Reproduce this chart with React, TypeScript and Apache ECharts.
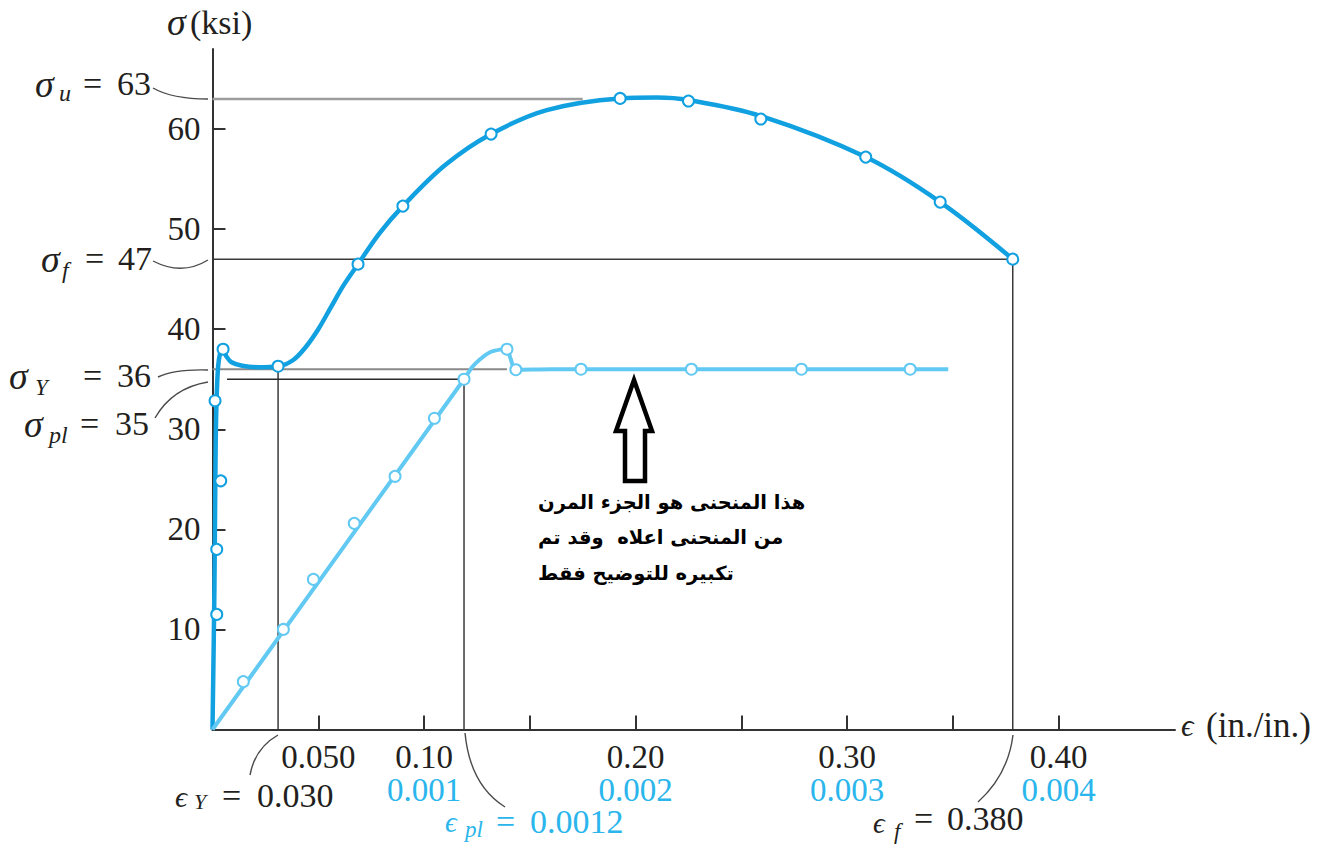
import React, { useEffect, useRef } from 'react';
import * as echarts from 'echarts';

// ---------- DATA ----------
// Large strain scale (upper curve), strain in in./in., stress in ksi
const upperCurve: number[][] = [
  [0, 0], [0.0009, 14], [0.0013, 24], [0.0017, 31], [0.0025, 35.8], [0.0036, 37.6], [0.005, 38.0],
  [0.0065, 37.3], [0.009, 36.7], [0.014, 36.35], [0.022, 36.2], [0.031, 36.3], [0.038, 36.9],
  [0.044, 38.2], [0.050, 40.0], [0.056, 42.2], [0.062, 44.4], [0.0688, 46.5], [0.079, 49.6],
  [0.090, 52.3], [0.110, 56.4], [0.1317, 59.5], [0.158, 61.9], [0.1927, 63.06], [0.21, 63.15],
  [0.225, 62.9], [0.2592, 61.3], [0.3088, 57.2], [0.344, 52.7], [0.3783, 47.0],
];
const upperMarkers: number[][] = [
  [0.002, 11.5], [0.002, 18.0], [0.0039, 24.85], [0.0012, 32.85], [0.005, 38.0], [0.031, 36.3],
  [0.0688, 46.5], [0.090, 52.3], [0.1317, 59.5], [0.1927, 63.06], [0.225, 62.8], [0.2592, 61.0],
  [0.3088, 57.2], [0.344, 52.7], [0.3783, 47.0],
];
// Small strain scale (elastic region, blue axis labels)
const elasticCurve: number[][] = [
  [0, 0], [0.001189, 35.0], [0.001227, 36.2], [0.001265, 37.0], [0.001312, 37.7], [0.001359, 37.96],
  [0.001392, 38.0], [0.001407, 37.2], [0.001434, 35.95], [0.0016, 36.0], [0.003478, 36.0],
];
const elasticMarkers: number[][] = [
  [0.0001457, 4.78], [0.000335, 10.0], [0.000477, 15.0], [0.00067, 20.6], [0.000863, 25.3],
  [0.001049, 31.1], [0.001189, 35.0], [0.001392, 38.0], [0.001434, 35.95], [0.001742, 36.0],
  [0.002264, 36.0], [0.002784, 36.0], [0.003298, 36.0],
];
// Reference lines
const refUltimate: number[][] = [[0, 63], [0.175, 63]];
const refFracture: number[][] = [[0, 47], [0.3783, 47]];
const refFractureV: number[][] = [[0.3783, 47], [0.3783, 0]];
const refYieldV: number[][] = [[0.031, 36.3], [0.031, 0]];
const refYieldSmall: number[][] = [[0, 36], [0.001392, 36]];
const refPropSmall: number[][] = [[0.0000686, 35], [0.001189, 35]];
const refPropSmallV: number[][] = [[0.001189, 35], [0.001189, 0]];

const xTickValues = [0.05, 0.1, 0.15, 0.2, 0.25, 0.3, 0.35, 0.4];
const xLabelValues = [0.05, 0.1, 0.2, 0.3, 0.4];
const xLabelsLarge = ['0.050', '0.10', '0.20', '0.30', '0.40'];
const xLabelsSmall = ['', '0.001', '0.002', '0.003', '0.004'];
const yTickValues = [10, 20, 30, 40, 50, 60];

const arabicLines = [
  'هذا المنحنى هو الجزء المرن',
  'من المنحنى اعلاه  وقد تم',
  'تكبيره للتوضيح فقط',
];

// ---------- STYLE ----------
const SERIF = "'Liberation Serif','DejaVu Serif',serif";
const INK = '#231f20';
const DARK_BLUE = '#11a0e0';
const LIGHT_BLUE = '#62c9f2';
const BLUE_TXT = '#2ab6ec';
const LEADER = '#4a4a4a';

function txt(x: number, y: number, text: string, size: number, italic = false, color = INK, family = SERIF, weight = 'normal') {
  return {
    type: 'text', x, y, silent: true,
    style: {
      text, fontSize: size, fontFamily: family, fontStyle: italic ? 'italic' : 'normal', fontWeight: weight,
      fill: color, align: 'left', verticalAlign: 'middle',
    },
  };
}
function leader(x1: number, y1: number, cx: number, cy: number, x2: number, y2: number) {
  return {
    type: 'bezierCurve', silent: true,
    shape: { x1, y1, cpx1: cx, cpy1: cy, x2, y2 },
    style: { stroke: LEADER, lineWidth: 1.4, fill: 'none' },
  };
}
function refLine(data: number[][], axis: number, color: string, width: number) {
  return {
    type: 'line', data, xAxisIndex: axis, yAxisIndex: 0, symbol: 'none', silent: true, z: 1,
    lineStyle: { color, width }, animation: false,
  };
}
const idxOf = (v: number) => xLabelValues.findIndex((t) => Math.abs(t - v) < 1e-9);

export default function App() {
  const ref = useRef<HTMLDivElement>(null);
  useEffect(() => {
    if (!ref.current) return;
    const chart = echarts.init(ref.current, undefined, { renderer: 'svg' });
    const graphic: any[] = [
      // y axis title
      txt(167, 22, 'σ', 38, true),
      txt(190, 22, '(ksi)', 34),
      // x axis title
      txt(1181, 725.5, 'ϵ', 31, true),
      txt(1206, 725.5, '(in./in.)', 35),
      // sigma_u = 63
      txt(35, 84, 'σ', 38, true), txt(59, 93, 'u', 24, true), txt(83, 83.5, '=', 34), txt(117, 83.5, '63', 34),
      // sigma_f = 47
      txt(41, 259, 'σ', 38, true), txt(62, 270, 'f', 24, true), txt(85, 258.5, '=', 34), txt(118, 258.5, '47', 34),
      // sigma_Y = 36
      txt(9, 376, 'σ', 38, true), txt(35, 387, 'Y', 23, true), txt(83, 375.5, '=', 34), txt(117, 375.5, '36', 34),
      // sigma_pl = 35
      txt(24, 424, 'σ', 38, true), txt(49, 435, 'pl', 24, true), txt(80, 423.5, '=', 34), txt(115, 423.5, '35', 34),
      // eps_Y = 0.030
      txt(175, 796, 'ϵ', 30, true), txt(194, 801, 'Y', 22, true), txt(222, 795.5, '=', 34), txt(257, 795.5, '0.030', 34),
      // eps_pl = 0.0012
      txt(445, 822, 'ϵ', 29, true, BLUE_TXT), txt(465, 829, 'pl', 23, true, BLUE_TXT),
      txt(496, 821.5, '=', 34, false, BLUE_TXT), txt(530, 821.5, '0.0012', 34, false, BLUE_TXT),
      // eps_f = 0.380
      txt(873, 822.5, 'ϵ', 29, true), txt(894, 831, 'f', 23, true), txt(914, 818.5, '=', 34), txt(947, 818.5, '0.380', 34),
      // leader curves
      leader(153, 88, 172, 99, 208, 99),
      leader(153, 261, 182, 276, 208, 260),
      leader(158, 377, 175, 369, 208, 370),
      leader(155, 418, 172, 388, 208, 382),
      leader(250, 775, 255, 748, 278, 735),
      leader(465, 733, 470, 785, 505, 807),
      leader(1013, 735, 1008, 775, 978, 802),
      // arrow
      {
        type: 'polygon', silent: true,
        shape: { points: [[634, 380], [652, 431], [645, 431], [645, 481], [625, 481], [625, 431], [616, 431]] },
        style: { fill: '#fff', stroke: '#000', lineWidth: 4.5, lineJoin: 'miter' },
      },
      ...arabicLines.map((t, i) => txt(538, 502 + i * 35.5, t, 19.5, false, '#000', "'DejaVu Sans',sans-serif", 'bold')),
    ];

    chart.setOption({
      animation: false,
      backgroundColor: '#fff',
      grid: { left: 212.5, right: 160, top: 49, bottom: 120.5, containLabel: false, outerBoundsMode: 'none' },
      xAxis: [
        {
          type: 'value', min: 0, max: 0.455, position: 'bottom',
          axisLine: { show: true, onZero: false, lineStyle: { color: '#333', width: 2 } },
          axisTick: { show: true, inside: true, length: 14, customValues: xTickValues, lineStyle: { color: '#333', width: 2 } },
          axisLabel: {
            customValues: xLabelValues, margin: 9,
            formatter: (v: number) => {
              const i = idxOf(v);
              if (i < 0) return '';
              return `{a|${xLabelsLarge[i]}}\n{b|${xLabelsSmall[i] || ' '}}`;
            },
            rich: {
              a: { fontSize: 33, fontFamily: SERIF, color: INK, lineHeight: 37 },
              b: { fontSize: 33, fontFamily: SERIF, color: BLUE_TXT, lineHeight: 29 },
            },
          },
          splitLine: { show: false },
        },
        { type: 'value', min: 0, max: 0.00455, show: false, splitLine: { show: false } },
      ],
      yAxis: [
        {
          type: 'value', min: 0, max: 68,
          axisLine: { show: true, onZero: false, lineStyle: { color: '#333', width: 2 } },
          axisTick: { show: true, inside: true, length: 13, customValues: yTickValues, lineStyle: { color: '#333', width: 2 } },
          axisLabel: { customValues: yTickValues, margin: 12, fontSize: 33, fontFamily: SERIF, color: INK },
          splitLine: { show: false },
        },
      ],
      series: [
        refLine(refUltimate, 0, '#9d9d9d', 2.5),
        refLine(refFracture, 0, '#3a3a3a', 1.5),
        refLine(refFractureV, 0, '#3a3a3a', 1.5),
        refLine(refYieldV, 0, '#3a3a3a', 1.5),
        refLine(refYieldSmall, 1, '#8a8a8a', 2),
        refLine(refPropSmall, 1, '#2a2a2a', 1.5),
        refLine(refPropSmallV, 1, '#3a3a3a', 1.5),
        {
          type: 'line', data: upperCurve, xAxisIndex: 0, symbol: 'none', smooth: 0.35, z: 3, silent: true,
          lineStyle: { color: DARK_BLUE, width: 4.5 },
        },
        {
          type: 'line', data: elasticCurve, xAxisIndex: 1, symbol: 'none', smooth: 0.25, z: 3, silent: true,
          lineStyle: { color: LIGHT_BLUE, width: 4 },
        },
        {
          type: 'scatter', data: upperMarkers, xAxisIndex: 0, symbol: 'circle', symbolSize: 11, z: 5, silent: true,
          itemStyle: { color: '#fff', borderColor: DARK_BLUE, borderWidth: 2, opacity: 1 },
        },
        {
          type: 'scatter', data: elasticMarkers, xAxisIndex: 1, symbol: 'circle', symbolSize: 11, z: 5, silent: true,
          itemStyle: { color: '#fff', borderColor: LIGHT_BLUE, borderWidth: 2, opacity: 1 },
        },
      ],
      graphic,
    });
    return () => chart.dispose();
  }, []);
  return <div ref={ref} style={{ position: 'fixed', left: 0, top: 0, width: 1335, height: 850, background: '#fff' }} />;
}
